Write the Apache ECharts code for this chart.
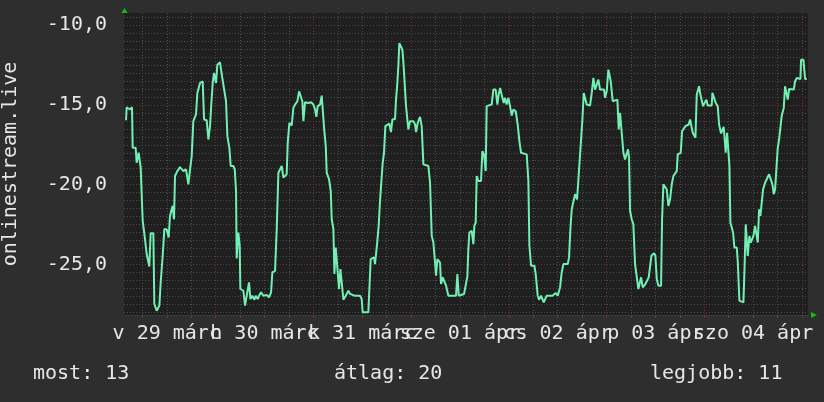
<!DOCTYPE html>
<html><head><meta charset="utf-8">
<script src="https://cdn.jsdelivr.net/npm/echarts@6/dist/echarts.min.js"></script>
<style>html,body{margin:0;padding:0;background:#2e2e2e}#c{width:824px;height:402px}</style>
</head><body><div id="c"></div>
<script>
// hours since 00:00 on Sunday 29 March
const times = [
2.0,2.15,2.97,3.47,3.63,4.37,4.61,5.1,5.6,5.84,6.09,6.66,7.07,7.48,7.72,8.05,8.71,8.95,9.53,10.18,
10.51,11.0,11.41,11.98,12.47,12.8,13.21,13.46,13.78,14.03,14.6,15.26,16.08,16.73,17.31,17.72,18.13,18.53,19.19,19.52,
20.17,20.83,21.16,21.81,22.22,22.63,22.96,23.29,23.61,24.1,24.43,25.09,25.58,26.07,26.56,26.89,27.38,27.71,28.36,28.7,
29.02,29.18,29.59,29.92,30.08,30.82,31.23,31.64,32.21,32.54,33.03,33.52,33.85,34.34,34.67,35.16,35.73,36.55,37.12,37.62,
37.94,38.6,39.01,39.42,39.83,40.24,40.65,41.05,41.46,41.71,42.12,42.69,43.1,43.51,44.09,44.5,44.99,45.31,45.56,45.97,
46.79,47.44,48.02,48.43,48.75,49.08,49.65,50.06,50.39,50.64,51.05,51.29,51.87,52.28,52.52,52.93,53.18,53.5,53.99,54.32,
54.65,54.98,55.39,55.96,56.62,57.03,58.09,59.47,59.88,60.12,61.51,61.76,62.09,62.91,63.15,63.4,63.73,64.05,64.38,64.79,
65.04,65.36,65.69,66.02,66.67,67.08,67.41,68.07,68.31,68.64,68.89,69.13,69.54,69.87,70.11,70.44,70.77,71.1,71.34,71.75,
72.57,72.98,73.23,73.64,74.21,74.62,75.03,76.26,76.67,77.08,77.49,77.9,78.14,78.47,78.8,79.12,79.37,79.78,80.27,80.6,
81.17,83.05,83.38,83.71,85.02,85.51,85.84,86.08,86.33,86.9,87.31,87.55,87.88,88.13,88.54,89.19,89.52,89.93,90.34,90.58,
91.81,92.22,92.79,93.2,93.45,93.86,94.27,94.76,95.09,95.5,95.91,96.32,96.73,97.14,97.71,98.2,98.61,99.02,100.41,100.82,
101.07,101.48,102.3,102.62,103.11,103.44,103.93,104.26,104.59,104.92,105.33,106.72,107.54,108.03,108.6,109.01,109.42,110.48,110.81,111.14,
111.47,111.88,112.29,112.78,113.27,113.76,114.09,114.42,114.74,115.15,115.97,116.38,116.79,117.2,117.6,118.01,118.42,118.83,119.41,119.65,
120.06,120.47,120.72,121.05,121.29,121.54,122.68,123.01,123.34,123.83,124.16,124.57,124.98,125.3,125.55,125.8,126.2,126.61,127.02,127.43,
127.84,128.09,128.5,128.91,129.24,129.56,130.05,130.38,130.71,131.04,131.69,132.02,132.35,132.76,133.41,133.66,133.98,134.8,135.21,135.62,
136.03,136.44,137.26,137.51,138.24,138.57,139.39,139.72,140.21,140.54,140.95,141.19,141.85,142.18,142.74,143.07,143.4,143.73,144.22,144.54,
144.87,145.85,146.02,146.51,146.84,147.33,147.66,147.98,148.15,148.48,148.8,149.13,149.29,149.62,149.95,150.2,150.44,150.77,151.1,151.42,
152.0,152.24,152.65,153.64,153.88,154.05,154.21,154.45,154.7,154.86,155.11,155.44,155.85,156.09,156.5,156.91,157.16,157.49,157.81,158.14,
158.47,158.96,159.45,159.94,160.27,160.76,161.09,161.42,161.74,162.07,162.4,162.73,163.05,163.38,163.55,163.87,164.2,164.53,164.86,166.0,
166.33,166.74,167.64,167.8,168.38,168.79,169.2
];
const values = [
-15.96,-15.15,-15.29,-15.15,-17.69,-17.69,-18.63,-18.0,-18.94,-19.04,-22.27,-23.42,-24.35,-24.46,-25.13,-23.04,-23.04,-27.48,-27.9,-27.58,
-26.13,-24.46,-22.79,-22.79,-23.31,-21.96,-21.54,-21.33,-22.17,-19.46,-19.15,-18.9,-19.15,-19.04,-19.98,-19.04,-18.21,-16.02,-15.6,-14.25,
-13.63,-13.52,-15.92,-15.96,-17.17,-16.33,-14.88,-13.63,-13.0,-13.63,-12.48,-12.33,-13.21,-13.31,-14.77,-16.96,-17.69,-18.83,-18.83,-19.04,
-20.4,-24.63,-23.0,-23.83,-26.54,-26.65,-27.58,-26.96,-26.13,-27.17,-26.96,-27.21,-26.96,-27.17,-26.96,-26.75,-26.96,-26.92,-27.06,-26.75,
-25.5,-25.4,-22.79,-19.25,-19.15,-18.83,-19.56,-19.56,-19.35,-17.38,-16.13,-16.29,-15.19,-14.98,-14.77,-14.15,-14.21,-14.77,-16.02,-14.83,
-14.88,-14.83,-14.98,-15.29,-15.75,-15.08,-14.98,-14.42,-14.42,-16.44,-17.58,-19.25,-19.67,-20.4,-22.17,-22.79,-25.6,-23.94,-23.94,-26.54,
-25.29,-25.25,-27.21,-26.96,-26.65,-26.85,-26.96,-26.96,-27.17,-28.0,-28.0,-26.58,-24.67,-24.56,-24.98,-24.98,-23.52,-22.58,-21.02,-20.92,
-18.63,-18.0,-16.33,-16.23,-16.17,-16.71,-15.92,-15.88,-14.67,-13.63,-12.54,-11.13,-11.13,-11.54,-12.27,-12.38,-15.08,-15.08,-16.54,-16.02,
-16.02,-16.23,-16.71,-16.13,-15.75,-16.33,-18.73,-18.83,-19.88,-23.21,-23.63,-24.88,-25.71,-24.67,-24.67,-24.88,-26.23,-25.81,-25.75,-26.33,
-26.96,-26.96,-25.6,-26.96,-26.85,-26.75,-25.75,-24.04,-23.0,-22.9,-23.73,-22.58,-22.38,-19.46,-19.77,-19.77,-17.9,-18.1,-19.15,-15.08,
-14.98,-14.04,-14.04,-14.98,-14.46,-13.94,-14.04,-14.88,-14.56,-14.98,-14.56,-15.08,-15.67,-15.29,-15.4,-16.23,-17.27,-18.0,-18.1,-19.77,
-23.83,-25.08,-25.08,-25.6,-26.96,-27.21,-26.96,-26.85,-27.38,-27.27,-26.96,-26.96,-26.79,-26.96,-26.44,-25.5,-24.98,-24.98,-24.56,-22.79,
-21.54,-21.54,-20.6,-20.92,-19.04,-18.94,-15.92,-14.25,-14.25,-14.98,-15.04,-14.25,-13.31,-14.04,-14.04,-13.42,-14.04,-13.94,-14.04,-14.56,
-14.15,-12.79,-12.75,-13.52,-13.63,-14.77,-14.67,-16.54,-15.5,-15.5,-18.0,-18.42,-18.52,-17.79,-18.31,-21.65,-22.17,-22.48,-24.98,-25.08,
-26.54,-26.54,-25.81,-26.44,-26.54,-26.23,-26.23,-25.81,-25.81,-24.46,-24.29,-24.46,-25.92,-26.33,-26.33,-22.17,-19.98,-20.29,-21.33,-20.92,
-19.98,-19.46,-19.15,-18.1,-18.0,-16.65,-16.33,-16.33,-16.23,-15.92,-16.02,-16.75,-17.06,-14.35,-13.83,-14.35,-14.42,-15.08,-14.98,-14.67,
-15.04,-15.04,-14.25,-14.25,-14.88,-15.08,-16.23,-16.33,-16.79,-16.79,-16.38,-16.33,-18.0,-16.75,-17.9,-18.83,-22.38,-22.48,-23.0,-23.94,
-23.94,-24.77,-27.27,-27.38,-25.5,-25.4,-22.48,-22.58,-24.46,-24.56,-23.21,-23.63,-23.63,-23.21,-22.58,-22.48,-23.63,-21.54,-21.96,-21.96,
-20.29,-19.88,-19.88,-19.35,-19.35,-19.98,-20.6,-20.29,-20.19,-17.69,-17.17,-17.17,-15.67,-15.6,-15.19,-13.83,-13.79,-14.67,-14.0,-14.04,
-13.52,-13.31,-13.38,-12.17,-12.17,-13.38,-13.38
];
const dayTicks = [24, 48, 72, 96, 120, 144, 168];
const dayLabelPos = [12, 36, 60, 84, 108, 132, 156];
const dayLabels = ['v 29 márc', 'h 30 márc', 'k 31 márc', 'sze 01 ápr', 'cs 02 ápr', 'p 03 ápr', 'szo 04 ápr'];
const yMajorTicks = [-25, -20, -15, -10];
const yTitle = 'onlinestream.live';
const statNames = ['most', 'átlag', 'legjobb'];
const statValues = [13, 20, 11];

const X_MIN = 1.5, X_MAX = 169.5, Y_MIN = -28.17, Y_MAX = -9.24;
const xMinor = []; for (let h = 6; h <= 168; h += 6) xMinor.push(h);
const yMinor = []; for (let v = -28; v <= -9.5; v += 0.5) yMinor.push(v);

const FONT = '"DejaVu Sans Mono", monospace';
const TXT = '#e6e6e6';
const chart = echarts.init(document.getElementById('c'), null, {renderer: 'canvas'});
const dotted = [1, 2];
const GRID_MINOR = '#4c4c4c', GRID_MAJOR = '#6e3434';

function gridAxis(min, max, vals, color, pos, tickLen) {
  return {type: 'value', min, max, position: pos,
    axisLine: {show: false},
    axisTick: {show: tickLen > 0, interval: 0, customValues: vals, length: tickLen, lineStyle: {color}},
    axisLabel: {show: false},
    splitLine: {show: true, interval: 0, customValues: vals, lineStyle: {color, type: dotted, width: 1}}};
}
function labelAxis(min, max, vals, pos, margin, fmt, padding) {
  return {type: 'value', min, max, position: pos,
    axisLine: {show: false}, axisTick: {show: false, customValues: vals}, splitLine: {show: false},
    axisLabel: {show: true, customValues: vals, margin, color: TXT, fontFamily: FONT, fontSize: 20, padding,
      showMinLabel: true, showMaxLabel: true, hideOverlap: false, interval: 0, formatter: fmt}};
}
const dayFmt = v => dayLabels[dayLabelPos.indexOf(v)];
const evenPos = dayLabelPos.filter((_, i) => i % 2 === 0);
const oddPos = dayLabelPos.filter((_, i) => i % 2 === 1);

const xAxes = [
  gridAxis(X_MIN, X_MAX, xMinor, GRID_MINOR, 'bottom', 3),
  gridAxis(X_MIN, X_MAX, dayTicks, GRID_MAJOR, 'bottom', 3),
  labelAxis(X_MIN, X_MAX, evenPos, 'bottom', 9, dayFmt, 0),
  labelAxis(X_MIN, X_MAX, oddPos, 'bottom', 9, dayFmt, 0)
];
xAxes[0].axisLine = {show: true, lineStyle: {color: '#3a3a3a', width: 1}};
const yLabels = labelAxis(Y_MIN, Y_MAX, yMajorTicks, 'left', 17, v => v.toFixed(1).replace('.', ','), [7, 0, 0, 0]);
Object.assign(yLabels, {name: yTitle, nameLocation: 'middle', nameRotate: 90, nameGap: 103,
  nameTextStyle: {color: TXT, fontFamily: FONT, fontSize: 20}});
const yAxes = [
  gridAxis(Y_MIN, Y_MAX, yMinor, GRID_MINOR, 'left', 0),
  gridAxis(Y_MIN, Y_MAX, yMajorTicks, GRID_MAJOR, 'left', 0),
  yLabels
];

chart.setOption({
  backgroundColor: '#2e2e2e',
  animation: false,
  grid: {left: 124, top: 13, width: 684, height: 302, show: true, backgroundColor: '#1f1f1f', borderWidth: 0,
         containLabel: false, outerBoundsMode: 'none'},
  xAxis: xAxes,
  yAxis: yAxes,
  series: [{
    type: 'line', xAxisIndex: 0, yAxisIndex: 0, showSymbol: false, symbol: 'none',
    data: times.map((t, i) => [t, values[i]]),
    lineStyle: {color: '#72f0b4', width: 2}, itemStyle: {color: '#72f0b4'}
  }],
  graphic: [
    {type: 'polygon', shape: {points: [[121.5, 13], [127.5, 13], [124.5, 8]]}, style: {fill: '#10c010'}},
    {type: 'polygon', shape: {points: [[811, 312], [811, 318], [817, 315]]}, style: {fill: '#10c010'}},
    {type: 'text', x: 33, y: 374, style: {text: statNames[0] + ': ' + statValues[0], fill: TXT, font: '20px ' + FONT, verticalAlign: 'middle'}},
    {type: 'text', x: 334, y: 374, style: {text: statNames[1] + ': ' + statValues[1], fill: TXT, font: '20px ' + FONT, verticalAlign: 'middle'}},
    {type: 'text', x: 650, y: 374, style: {text: statNames[2] + ': ' + statValues[2], fill: TXT, font: '20px ' + FONT, verticalAlign: 'middle'}}
  ]
});
</script></body></html>
